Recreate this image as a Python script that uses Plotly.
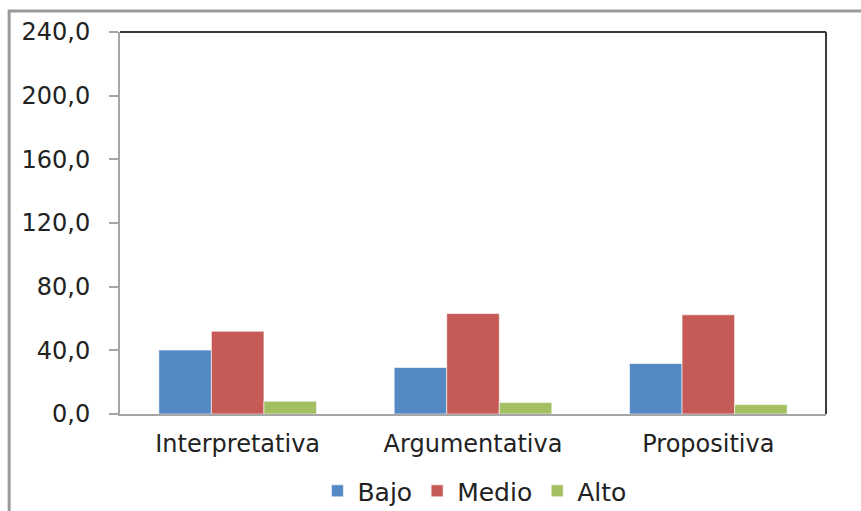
import plotly.graph_objects as go

# Competency levels per area
categories = ["Interpretativa", "Argumentativa", "Propositiva"]
bajo = [40.2, 29.2, 31.7]
medio = [52.0, 63.1, 62.3]
alto = [8.0, 7.2, 5.9]

y_ticks = [0, 40, 80, 120, 160, 200, 240]

series = [
    ("Bajo", bajo, "#5589C4"),
    ("Medio", medio, "#C55A56"),
    ("Alto", alto, "#A2C062"),
]

fig = go.Figure()
for name, vals, color in series:
    fig.add_trace(go.Bar(
        x=categories, y=vals, name=name,
        marker=dict(color=color, line=dict(color="rgba(255,255,255,0.6)", width=1)),
    ))

font_family = "DejaVu Sans, Verdana, sans-serif"

fig.update_layout(
    width=861, height=511,
    margin=dict(l=120, r=35, t=32, b=97, autoexpand=False),
    paper_bgcolor="white", plot_bgcolor="white",
    barmode="group", bargap=0.33, bargroupgap=0,
    separators=",.",
    font=dict(family=font_family, color="#222222"),
    showlegend=True,
    legend=dict(
        orientation="h", x=0.502, xanchor="center",
        yref="container", y=0.039, yanchor="middle",
        font=dict(size=25, family=font_family, color="#222222"),
        itemwidth=30, traceorder="normal",
    ),
    xaxis=dict(
        showline=True, linecolor="#A6A6A6", linewidth=2,
        ticks="", showgrid=False, zeroline=False, automargin=False,
        tickfont=dict(size=24, family=font_family, color="#222222"),
        ticklabelstandoff=7,
    ),
    yaxis=dict(
        range=[0, 240], tickvals=y_ticks, tickformat=".1f",
        showline=True, linecolor="#A6A6A6", linewidth=2,
        ticks="outside", ticklen=9, tickcolor="#A6A6A6", tickwidth=1.5,
        showgrid=False, zeroline=False, automargin=False,
        tickfont=dict(size=24, family=font_family, color="#222222"),
        ticklabelstandoff=14,
    ),
    shapes=[
        # top and right edges of the plot area
        dict(type="line", xref="paper", yref="paper", x0=0, x1=1, y0=1, y1=1,
             line=dict(color="#3A3A3A", width=2)),
        dict(type="line", xref="paper", yref="paper", x0=1, x1=1, y0=0, y1=1,
             line=dict(color="#3A3A3A", width=2)),
        # outer chart frame
        dict(type="rect", xref="paper", yref="paper",
             x0=-0.157, x1=1.3, y0=-0.6, y1=1.055,
             line=dict(color="#9A9A9A", width=3), layer="below"),
    ],
)

fig.write_html("out.html")
